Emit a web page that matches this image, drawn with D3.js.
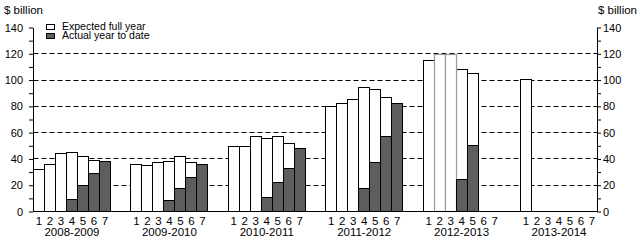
<!DOCTYPE html>
<html>
<head>
<meta charset="utf-8">
<script src="https://cdn.jsdelivr.net/npm/d3@7"></script>
<style>
  html, body { margin: 0; padding: 0; background: #fff; }
  svg { display: block; }
  text { font-family: "Liberation Sans", Arial, Helvetica, sans-serif; fill: #000; }
</style>
</head>
<body>
<svg id="chart" width="640" height="242"></svg>
<script>
// ---- data ----
const years = ["2008-2009", "2009-2010", "2010-2011", "2011-2012", "2012-2013", "2013-2014"];
const slots = ["1", "2", "3", "4", "5", "6", "7"];
const yTicks = [0, 20, 40, 60, 80, 100, 120, 140];
// Expected full year ($ billion), per year, slots 1-7
const expected = [
  [32, 36, 44.3, 45, 42.2, 39, 38.4],
  [36, 35.3, 37.6, 38.4, 42.2, 37.4, 36.1],
  [49.8, 49.8, 57.4, 55.2, 57.4, 51.9, 47.6],
  [79.6, 82.4, 85, 94.1, 93.1, 87, 82.4],
  [114.7, 119.5, 119.5, 108.4, 105.3, null, null],
  [100.8, null, null, null, null, null, null]
];
// Actual year to date ($ billion)
const actual = [
  [null, null, null, 9.2, 20, 29, 38.4],
  [null, null, null, 8.4, 17.6, 26, 36.1],
  [null, null, null, 10.7, 22.4, 32.8, 47.6],
  [null, null, null, 17.6, 37.6, 57.4, 82.4],
  [null, null, null, 24.4, 50.4, null, null],
  [null, null, null, null, null, null, null]
];
// expected bars drawn with a grey outline (year index, slot)
const greyOutlined = [[4, "2"], [4, "3"]];
const legendItems = ["Expected full year", "Actual year to date"];

(function () {
// ---- layout ----
const svg = d3.select("#chart");
const mLeft = 33.5, mRight = 597.5, mBottom = 211.5, mTop = 27.5;
const darkFill = "#5e5e5e";

const xGroup = d3.scaleBand().domain(years).range([mLeft, mRight]).paddingInner(0.21).paddingOuter(0);
const xSlot = d3.scaleBand().domain(slots).range([0, xGroup.bandwidth()]).padding(0);
const y = d3.scaleLinear().domain([0, 140]).range([mBottom, mTop]);

const snap = v => Math.round(v - 0.5) + 0.5;

// gridlines
svg.append("g").selectAll("line")
  .data(yTicks.filter(d => d > 0 && d < 140))
  .join("line")
  .attr("x1", mLeft).attr("x2", mRight)
  .attr("y1", d => snap(y(d))).attr("y2", d => snap(y(d)))
  .attr("stroke", "#000").attr("stroke-width", 1)
  .attr("stroke-dasharray", "5,3");

// bars
const barData = [];
years.forEach((yr, gi) => {
  slots.forEach((s, si) => {
    barData.push({ yr, gi, s, exp: expected[gi][si], act: actual[gi][si] });
  });
});
const isGrey = d => greyOutlined.some(g => g[0] === d.gi && g[1] === d.s);
const bx = d => snap(xGroup(d.yr) + xSlot(d.s));
const bw = d => snap(xGroup(d.yr) + xSlot(d.s) + xSlot.bandwidth()) - bx(d);

const gBars = svg.append("g");
gBars.selectAll("rect.exp")
  .data(barData.filter(d => d.exp != null && !isGrey(d)))
  .join("rect").attr("class", "exp")
  .attr("x", bx).attr("width", bw)
  .attr("y", d => snap(y(d.exp))).attr("height", d => snap(y(0)) - snap(y(d.exp)))
  .attr("fill", "#fff").attr("stroke", "#000").attr("stroke-width", 1);
gBars.selectAll("rect.expg")
  .data(barData.filter(d => d.exp != null && isGrey(d)))
  .join("rect").attr("class", "expg")
  .attr("x", bx).attr("width", bw)
  .attr("y", d => snap(y(d.exp))).attr("height", d => snap(y(0)) - snap(y(d.exp)))
  .attr("fill", "#fff").attr("stroke", "#9a9a9a").attr("stroke-width", 1.2);
gBars.selectAll("rect.act")
  .data(barData.filter(d => d.act != null))
  .join("rect").attr("class", "act")
  .attr("x", bx).attr("width", bw)
  .attr("y", d => snap(y(d.act))).attr("height", d => snap(y(0)) - snap(y(d.act)))
  .attr("fill", darkFill).attr("stroke", "#000").attr("stroke-width", 1);

// x baseline
svg.append("line").attr("x1", mLeft).attr("x2", mRight)
  .attr("y1", snap(y(0))).attr("y2", snap(y(0)))
  .attr("stroke", "#000").attr("stroke-width", 1);

// y axes
const minorTicks = d3.range(0, 141, 10);
const fmt = d => (d % 20 === 0 ? d : "");
const axL = svg.append("g").attr("transform", `translate(${mLeft - 0.5},0)`)
  .call(d3.axisLeft(y).tickValues(minorTicks).tickFormat(fmt).tickSize(4).tickSizeOuter(0).tickPadding(6));
const axR = svg.append("g").attr("transform", `translate(${mRight - 0.5},0)`)
  .call(d3.axisRight(y).tickValues(minorTicks).tickFormat(fmt).tickSize(4).tickSizeOuter(0).tickPadding(2));
[axL, axR].forEach(a => {
  a.selectAll("text").style("font-size", "11px").attr("fill", "#000")
    .style("font-family", '"Liberation Sans", Arial, sans-serif');
  a.select(".domain").attr("stroke", "#000");
  a.selectAll(".tick line").attr("stroke", "#000");
});

// unit labels
svg.append("text").attr("x", 4).attr("y", 14).style("font-size", "11.5px").text("$ billion");
svg.append("text").attr("x", 637).attr("y", 14).attr("text-anchor", "end").style("font-size", "11.5px").text("$ billion");

// x labels: slot numbers and years
const gX = svg.append("g");
gX.selectAll("text.slot")
  .data(barData)
  .join("text").attr("class", "slot")
  .attr("x", d => xGroup(d.yr) + xSlot(d.s) + xSlot.bandwidth() / 2)
  .attr("y", 224.5)
  .attr("text-anchor", "middle")
  .style("font-size", "11.5px")
  .text(d => d.s);
gX.selectAll("text.year")
  .data(years)
  .join("text").attr("class", "year")
  .attr("x", d => xGroup(d) + xGroup.bandwidth() / 2)
  .attr("y", 235.5)
  .attr("text-anchor", "middle")
  .style("font-size", "11.5px")
  .text(d => d);

// legend
const leg = svg.append("g");
legendItems.forEach((t, i) => {
  leg.append("rect").attr("x", 46.5).attr("y", 24.5 + i * 9).attr("width", 8).attr("height", 5)
    .attr("fill", i === 0 ? "#fff" : darkFill).attr("stroke", "#000").attr("stroke-width", 1);
  leg.append("text").attr("x", 62).attr("y", 29.5 + i * 9).style("font-size", "10.5px").text(t);
});
})();
</script>
</body>
</html>
